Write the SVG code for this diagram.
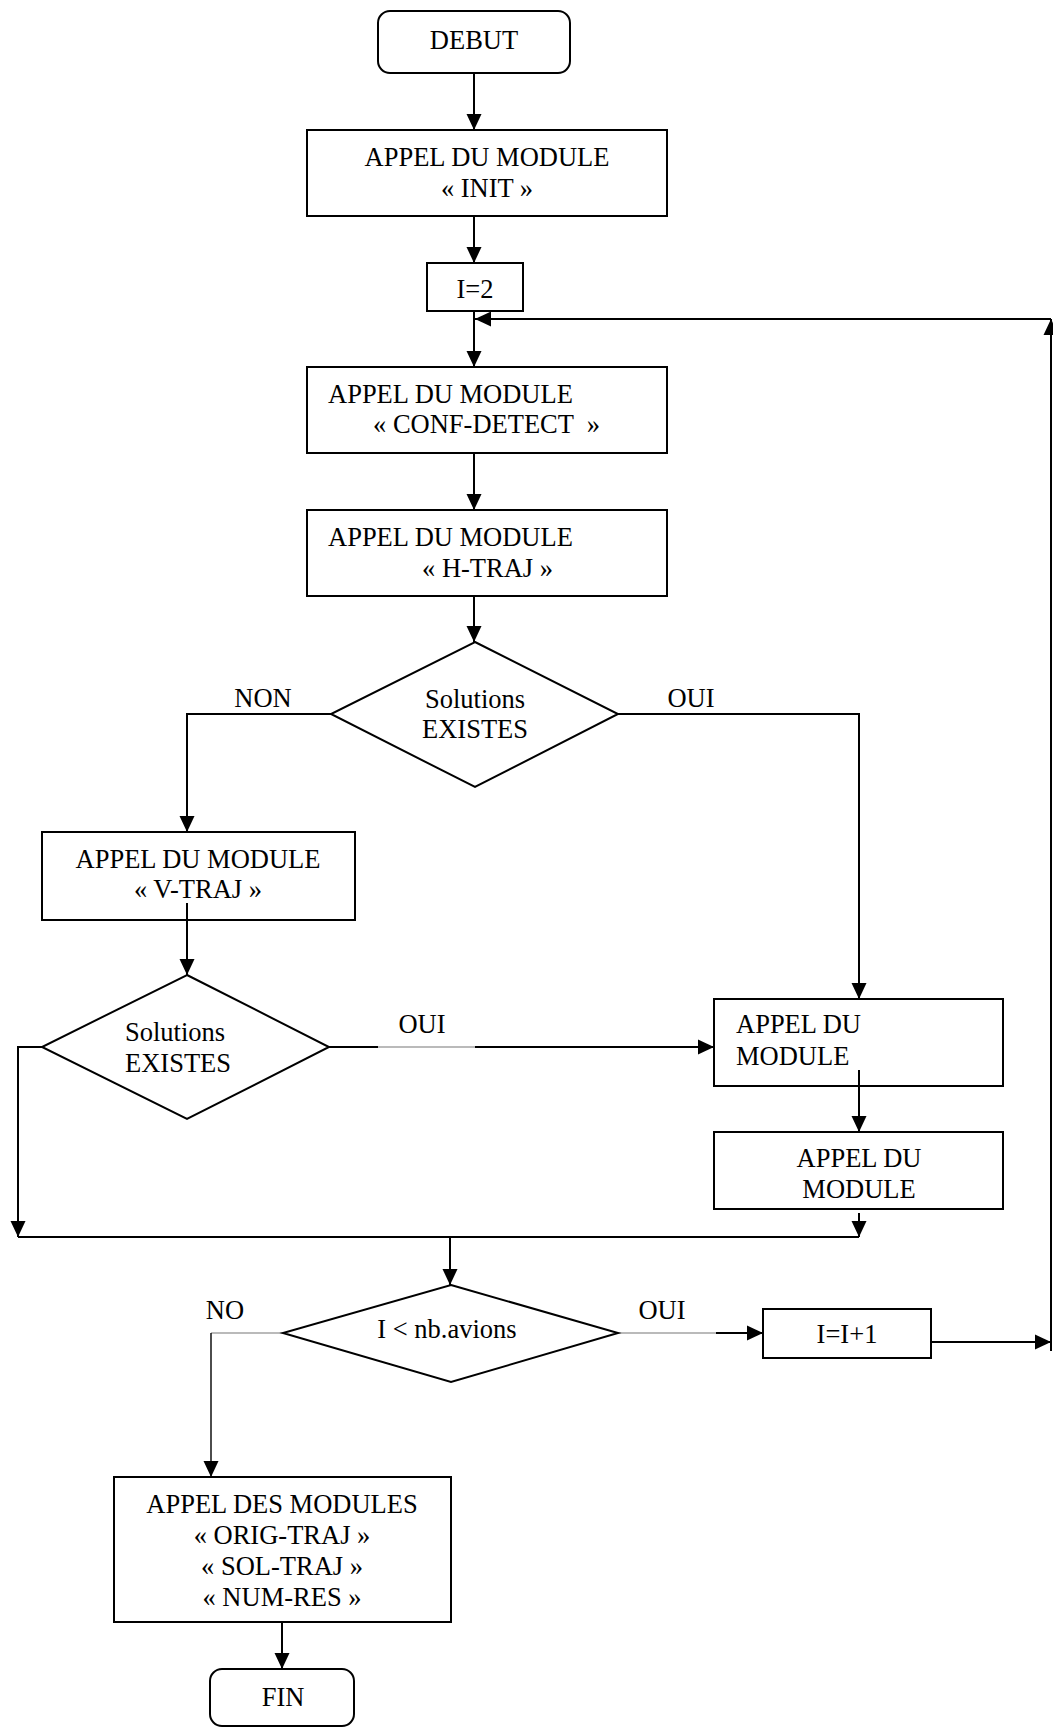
<svg xmlns="http://www.w3.org/2000/svg" width="1053" height="1728" viewBox="0 0 1053 1728">
<style>
text{font-family:"Liberation Serif","Times New Roman",serif;font-size:26.5px;fill:#000}
.c{text-anchor:middle}
.box{fill:#fff;stroke:#000;stroke-width:2}
.ln{fill:none;stroke:#000;stroke-width:2}
.thin{fill:none;stroke:#777;stroke-width:1.2}
</style>
<defs>
<marker id="ah" markerUnits="userSpaceOnUse" markerWidth="17" markerHeight="16" refX="16" refY="8" orient="auto" viewBox="0 0 17 16">
<path d="M0,0.5 L16,8 L0,15.5 z" fill="#000"/>
</marker>
</defs>
<rect width="1053" height="1728" fill="#fff"/>
<g id="connectors">
<path class="ln" d="M474,73 V130" marker-end="url(#ah)"/>
<path class="ln" d="M474,216 V263" marker-end="url(#ah)"/>
<path class="ln" d="M474,311 V367" marker-end="url(#ah)"/>
<path class="ln" d="M931,1342 H1051" marker-end="url(#ah)"/>
<path class="ln" d="M1051,1351 V319" marker-end="url(#ah)"/>
<path class="ln" d="M1051,319 H475" marker-end="url(#ah)"/>
<path class="ln" d="M474,453 V510" marker-end="url(#ah)"/>
<path class="ln" d="M474,596 V642" marker-end="url(#ah)"/>
<path class="ln" d="M331,714 H187 V832" marker-end="url(#ah)"/>
<path class="ln" d="M618,714 H859 V999" marker-end="url(#ah)"/>
<path class="ln" d="M187,903 V975" marker-end="url(#ah)"/>
<path class="ln" d="M329,1047 H378"/>
<path class="thin" d="M378,1047 H475"/>
<path class="ln" d="M475,1047 H714" marker-end="url(#ah)"/>
<path class="ln" d="M859,1070 V1132" marker-end="url(#ah)"/>
<path class="ln" d="M42,1047 H18 V1237" marker-end="url(#ah)"/>
<path class="ln" d="M859,1213 V1237" marker-end="url(#ah)"/>
<path class="ln" d="M18,1237 H859"/>
<path class="ln" d="M450,1237 V1285" marker-end="url(#ah)"/>
<path class="thin" d="M283,1333 H211"/>
<path class="ln" style="stroke-width:1.4" d="M211,1333 V1477" marker-end="url(#ah)"/>
<path class="thin" d="M618,1333 H716"/>
<path class="ln" d="M716,1333 H763" marker-end="url(#ah)"/>
<path class="ln" d="M282,1622 V1669" marker-end="url(#ah)"/>
</g>
<g id="debut"><rect class="box" x="378" y="11" width="192" height="62" rx="12"/><text class="c" x="474" y="49">DEBUT</text></g>
<g id="init"><rect class="box" x="307" y="130" width="360" height="86"/><text class="c" x="487" y="166">APPEL DU MODULE</text><text class="c" x="487" y="197">« INIT »</text></g>
<g id="i2"><rect class="box" x="427" y="263" width="96" height="48"/><text class="c" x="475" y="298">I=2</text></g>
<g id="conf"><rect class="box" x="307" y="367" width="360" height="86"/><text x="328" y="403">APPEL DU MODULE</text><text x="373" y="433" xml:space="preserve">« CONF-DETECT  »</text></g>
<g id="htraj"><rect class="box" x="307" y="510" width="360" height="86"/><text x="328" y="546">APPEL DU MODULE</text><text x="422" y="577">« H-TRAJ »</text></g>
<g id="d1"><polygon class="box" points="475,642 618,714 475,787 331,714"/><text class="c" x="475" y="708">Solutions</text><text class="c" x="475" y="738">EXISTES</text></g>
<g id="lbl-non"><text class="c" x="263" y="707">NON</text></g>
<g id="lbl-oui1"><text class="c" x="691" y="707">OUI</text></g>
<g id="vtraj"><rect class="box" x="42" y="832" width="313" height="88"/><text class="c" x="198" y="868">APPEL DU MODULE</text><text class="c" x="198" y="898">« V-TRAJ »</text></g>
<path class="ln" d="M187,903 V920"/>
<g id="d2"><polygon class="box" points="187,975 329,1047 187,1119 42,1047"/><text x="125" y="1041">Solutions</text><text x="125" y="1072">EXISTES</text></g>
<g id="lbl-oui2"><text class="c" x="422" y="1033">OUI</text></g>
<g id="boxa"><rect class="box" x="714" y="999" width="289" height="87"/><text x="736" y="1033">APPEL DU</text><text x="736" y="1065">MODULE</text></g>
<path class="ln" d="M859,1070 V1086"/>
<g id="boxb"><rect class="box" x="714" y="1132" width="289" height="77"/><text class="c" x="859" y="1167">APPEL DU</text><text class="c" x="859" y="1198">MODULE</text></g>
<g id="d3"><polygon class="box" points="451,1285 618,1333 451,1382 283,1333"/><text class="c" x="447" y="1338">I &lt; nb.avions</text></g>
<g id="lbl-no"><text class="c" x="225" y="1319">NO</text></g>
<g id="lbl-oui3"><text class="c" x="662" y="1319">OUI</text></g>
<g id="incr"><rect class="box" x="763" y="1309" width="168" height="49"/><text class="c" x="847" y="1343">I=I+1</text></g>
<g id="final"><rect class="box" x="114" y="1477" width="337" height="145"/><text class="c" x="282" y="1513">APPEL DES MODULES</text><text class="c" x="282" y="1544">« ORIG-TRAJ »</text><text class="c" x="282" y="1575">« SOL-TRAJ »</text><text class="c" x="282" y="1606">« NUM-RES »</text></g>
<g id="fin"><rect class="box" x="210" y="1669" width="144" height="57" rx="12"/><text class="c" x="283" y="1706">FIN</text></g>
</svg>
